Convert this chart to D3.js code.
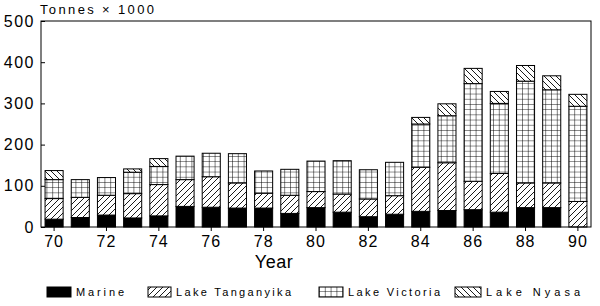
<!DOCTYPE html>
<html>
<head>
<meta charset="utf-8">
<script src="https://cdn.jsdelivr.net/npm/d3@7"></script>
<style>
    body { margin: 0; background: #fff; }
    svg { display: block; font-family: "Liberation Sans", Arial, sans-serif; }
</style>
</head>
<body>
<svg id="chart" width="600" height="306"></svg>
<script>
// catch in thousands of tonnes
const years = [70, 71, 72, 73, 74, 75, 76, 77, 78, 79, 80, 81, 82, 83, 84, 85, 86, 87, 88, 89, 90];
const marine = [19, 23, 29, 22, 27, 50, 48, 46, 46, 33, 47, 36, 25, 31, 38, 40, 42, 36, 47, 47, 0];
const tanganyika = [50, 49, 48, 59, 76, 65, 74, 61, 36, 44, 39, 44, 43, 45, 107, 116, 69, 94, 60, 60, 62];
const victoria = [46, 43, 43, 52, 44, 57, 57, 71, 54, 63, 74, 81, 71, 81, 105, 114, 237, 170, 247, 226, 231];
const nyasa = [22, 0, 0, 8, 19, 0, 0, 0, 0, 0, 0, 0, 0, 0, 16, 29, 37, 29, 38, 34, 29];
const seriesNames = ["Marine", "Lake Tanganyika", "Lake Victoria", "Lake Nyasa"];
const yTicks = [0, 100, 200, 300, 400, 500];
const xTickYears = [70, 72, 74, 76, 78, 80, 82, 84, 86, 88, 90];

let svg = d3.select("#chart");
let fills = ["#000", "url(#diagUp)", "url(#grid)", "url(#diagDown)"];

let defs = svg.append("defs");

let p1 = defs.append("pattern").attr("id", "diagUp")
    .attr("patternUnits", "userSpaceOnUse").attr("width", 6).attr("height", 6);
p1.append("rect").attr("width", 6).attr("height", 6).attr("fill", "#fff");
p1.append("path").attr("d", "M-1,7 L7,-1 M-1,1 L1,-1 M5,7 L7,5")
    .attr("stroke", "#000").attr("stroke-width", 0.9);

let p2 = defs.append("pattern").attr("id", "grid")
    .attr("patternUnits", "userSpaceOnUse").attr("width", 5.8).attr("height", 5.2);
p2.append("rect").attr("width", 5.8).attr("height", 5.2).attr("fill", "#fff");
p2.append("path").attr("d", "M0,0 L5.8,0 M0,0 L0,5.2")
    .attr("stroke", "#000").attr("stroke-width", 1);

let p3 = defs.append("pattern").attr("id", "diagDown")
    .attr("patternUnits", "userSpaceOnUse").attr("width", 6).attr("height", 6);
p3.append("rect").attr("width", 6).attr("height", 6).attr("fill", "#fff");
p3.append("path").attr("d", "M-1,-1 L7,7 M5,-1 L7,1 M-1,5 L1,7")
    .attr("stroke", "#000").attr("stroke-width", 0.9);

let plotLeft = 41, plotRight = 591, plotTop = 21, plotBottom = 227;

let x = d3.scaleBand().domain(years).range([plotLeft, plotRight])
    .paddingInner(0.31).paddingOuter(0.155);
let y = d3.scaleLinear().domain([0, 500]).range([plotBottom, plotTop]);

let table = years.map((yr, i) => ({
    year: yr, Marine: marine[i], "Lake Tanganyika": tanganyika[i],
    "Lake Victoria": victoria[i], "Lake Nyasa": nyasa[i]
}));
let stacked = d3.stack().keys(seriesNames)(table);

stacked.forEach((layer, k) => {
    svg.append("g").selectAll("rect")
        .data(layer.filter(d => d[1] > d[0]))
        .join("rect")
        .attr("x", d => x(d.data.year))
        .attr("y", d => y(d[1]))
        .attr("width", x.bandwidth())
        .attr("height", d => y(d[0]) - y(d[1]))
        .attr("fill", fills[k])
        .attr("stroke", "#000")
        .attr("stroke-width", 1);
});

// frame
svg.append("rect")
    .attr("x", plotLeft).attr("y", plotTop)
    .attr("width", plotRight - plotLeft).attr("height", plotBottom - plotTop)
    .attr("fill", "none").attr("stroke", "#000").attr("stroke-width", 1);

// y axis, ticks inward
let yAxis = d3.axisLeft(y).tickValues(yTicks).tickSize(-4).tickPadding(6);
let gy = svg.append("g").attr("transform", `translate(${plotLeft},0)`).call(yAxis);
gy.select(".domain").remove();
gy.selectAll("text").attr("font-size", 16).attr("font-family", "Liberation Sans, Arial, sans-serif")
    .attr("letter-spacing", 1.5).attr("fill", "#000");

// x axis, ticks outward on even years
let xAxis = d3.axisBottom(x).tickValues(xTickYears).tickSize(4).tickPadding(5);
let gx = svg.append("g").attr("transform", `translate(0,${plotBottom})`).call(xAxis);
gx.select(".domain").remove();
gx.selectAll("text").attr("font-size", 16).attr("font-family", "Liberation Sans, Arial, sans-serif")
    .attr("letter-spacing", 1).attr("fill", "#000");

svg.append("text")
    .attr("x", 40).attr("y", 14)
    .attr("font-size", 13)
    .attr("textLength", 114)
    .attr("lengthAdjust", "spacing")
    .text("Tonnes × 1000");

svg.append("text")
    .attr("x", 274).attr("y", 268)
    .attr("text-anchor", "middle")
    .attr("font-size", 18)
    .attr("letter-spacing", 0.5)
    .text("Year");

// legend
let legendX = [47, 148, 319, 455];
let legendW = [24, 23, 24, 26];
let labelW = [48, 115, 92, 94];
seriesNames.forEach((name, k) => {
    svg.append("rect")
        .attr("x", legendX[k]).attr("y", 287)
        .attr("width", legendW[k]).attr("height", 10)
        .attr("fill", fills[k]).attr("stroke", "#000");
    svg.append("text")
        .attr("x", legendX[k] + legendW[k] + 5).attr("y", 296)
        .attr("font-size", 11)
        .attr("textLength", labelW[k])
        .attr("lengthAdjust", "spacing")
        .text(name);
});
</script>
</body>
</html>
